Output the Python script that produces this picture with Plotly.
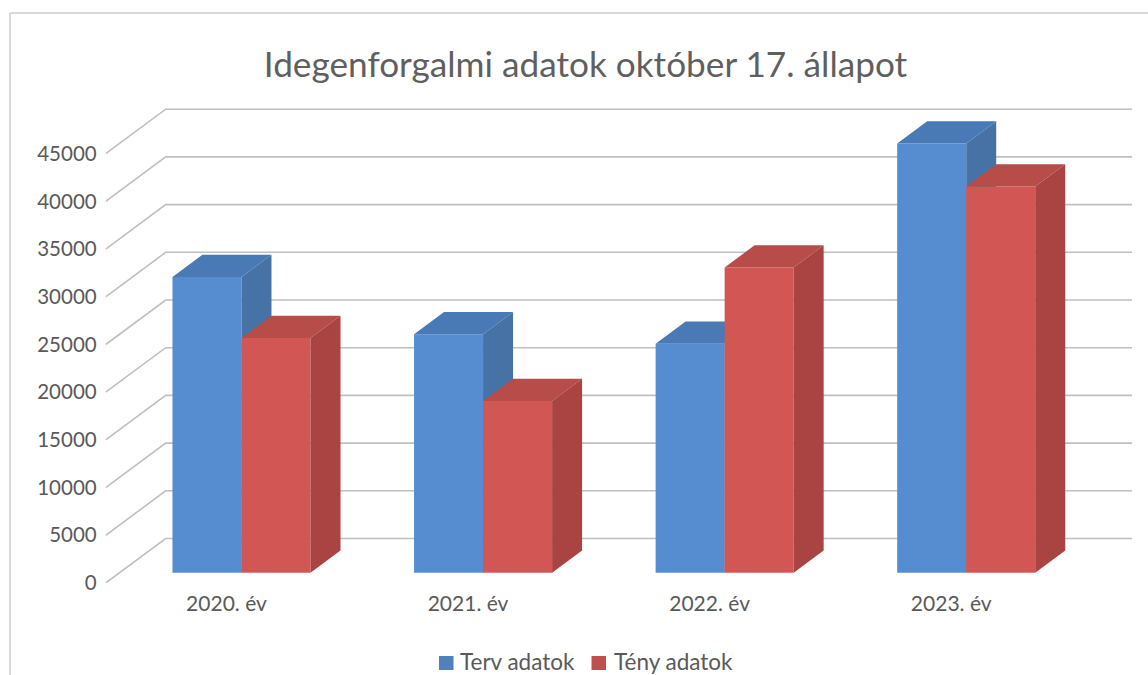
import plotly.graph_objects as go

categories = ["2020. év", "2021. év", "2022. év", "2023. év"]
terv_adatok = [31000, 25000, 24000, 45000]
teny_adatok = [24600, 18000, 32000, 40500]
y_ticks = [0, 5000, 10000, 15000, 20000, 25000, 30000, 35000, 40000, 45000]

FONT = "Lato"
TXT = "#595959"
GRID = "#bfbfbf"
BLUE = dict(front="#558dd0", top="#4a7ab5", side="#4672a6", legend="#4f81bd")
RED = dict(front="#d25654", top="#b74c49", side="#a94442", legend="#c0504d")

W, H = 1148, 675
L, R, T, B = 105.7, 16, 100, 92
PX_X = 241.6                # pixels per category
PX_Y = 47.7 / 5000          # pixels per value
DX, DY = 60 / PX_X, 44.5 / PX_Y   # oblique depth of the floor
BAR_W = 2 / 7
BASE = 0.23 * DY
XR = [-0.5, 3.5 + DX]
YR = [0, (H - T - B) / PX_Y]
XDOM = [L / W, 1 - R / W]
YDOM = [B / H, 1 - T / H]

fig = go.Figure()

# wall gridlines (bottom layer)
gx, gy = [], []
for v in y_ticks:
    gx += [XR[0], XR[0] + DX, XR[1], None]
    gy += [v, v + DY, v + DY, None]
fig.add_trace(go.Scatter(x=gx, y=gy, mode="lines", line=dict(color=GRID, width=1.6),
                         showlegend=False, hoverinfo="skip"))


def add_series(values, cols, left_shift, ax):
    xa, ya = f"x{ax}", f"y{ax}"
    pos = [i + 0.25 * DX + left_shift for i in range(len(values))]
    fig.add_trace(go.Bar(x=pos, y=values, base=[BASE] * len(values), width=BAR_W,
                         marker=dict(color=cols["front"], line=dict(width=0)),
                         showlegend=False, xaxis=xa, yaxis=ya))
    tx, ty, sx, sy = [], [], [], []
    for p, v in zip(pos, values):
        x0, x1 = p - BAR_W / 2, p + BAR_W / 2
        y0, y1 = BASE, BASE + v
        tx += [x0, x1, x1 + DX / 2, x0 + DX / 2, x0, None]
        ty += [y1, y1, y1 + DY / 2, y1 + DY / 2, y1, None]
        sx += [x1, x1 + DX / 2, x1 + DX / 2, x1, x1, None]
        sy += [y0, y0 + DY / 2, y1 + DY / 2, y1, y0, None]
    for fx, fy, c in ((tx, ty, cols["top"]), (sx, sy, cols["side"])):
        fig.add_trace(go.Scatter(x=fx, y=fy, mode="lines", fill="toself", fillcolor=c,
                                 line=dict(width=0), showlegend=False, hoverinfo="skip",
                                 xaxis=xa, yaxis=ya))


add_series(terv_adatok, BLUE, -BAR_W / 2, 2)
add_series(teny_adatok, RED, BAR_W / 2, 3)

# the third, blank entry only widens the legend box so the second label is not clipped
for name in ("Terv adatok", "Tény adatok", "\u00a0"):
    fig.add_trace(go.Scatter(x=[None], y=[None], mode="markers", name=name,
                             marker=dict(symbol="square", size=14, color="rgba(0,0,0,0)")))

px = lambda p: p / W
py = lambda p: 1 - p / H
frame = dict(type="line", xref="paper", yref="paper", line=dict(color="#d9d9d9", width=2))
swatch = dict(type="rect", xref="paper", yref="paper", line=dict(width=0),
              y0=py(656), y1=py(670))

fig.update_layout(
    width=W, height=H, paper_bgcolor="white", plot_bgcolor="rgba(0,0,0,0)",
    margin=dict(l=0, r=0, t=0, b=0, pad=0, autoexpand=False), barmode="overlay",
    font=dict(family=FONT, color=TXT, size=20),
    title=dict(text="Idegenforgalmi adatok október 17. állapot", font=dict(size=35.2, color="#5f5f5f"),
               x=585.5 / W, xanchor="center", y=1 - 65 / H, yanchor="middle"),
    xaxis=dict(domain=XDOM, range=XR, tickmode="array", tickvals=list(range(4)), ticktext=categories,
               tickfont=dict(size=21), automargin=False,
               showgrid=False, zeroline=False, showline=False, ticks="", ticklabelstandoff=6),
    yaxis=dict(domain=YDOM, range=YR, tickmode="array", tickvals=y_ticks, ticktext=[str(v) for v in y_ticks],
               tickfont=dict(size=20.5), automargin=False,
               showgrid=False, zeroline=False, showline=False, ticks="", ticklabelstandoff=8),
    xaxis2=dict(domain=XDOM, range=XR, overlaying="x", visible=False),
    yaxis2=dict(domain=YDOM, range=YR, overlaying="y", visible=False),
    xaxis3=dict(domain=XDOM, range=XR, overlaying="x", visible=False),
    yaxis3=dict(domain=YDOM, range=YR, overlaying="y", visible=False),
    legend=dict(orientation="h", x=px(420), y=py(662), xanchor="left", yanchor="middle",
                entrywidth=109, entrywidthmode="pixels",
                font=dict(size=22.5, color=TXT), bgcolor="rgba(0,0,0,0)"),
    shapes=[
        dict(frame, x0=px(10), x1=px(10), y0=py(13), y1=py(675)),
        dict(frame, x0=px(10), x1=px(1148), y0=py(13), y1=py(13)),
        dict(swatch, x0=px(439), x1=px(453.5), fillcolor=BLUE["legend"]),
        dict(swatch, x0=px(591.5), x1=px(606), fillcolor=RED["legend"]),
    ],
)

fig.write_html("out.html", post_script="document.body.style.margin='0';document.documentElement.style.overflow='hidden';",
               config=dict(displayModeBar=False))
